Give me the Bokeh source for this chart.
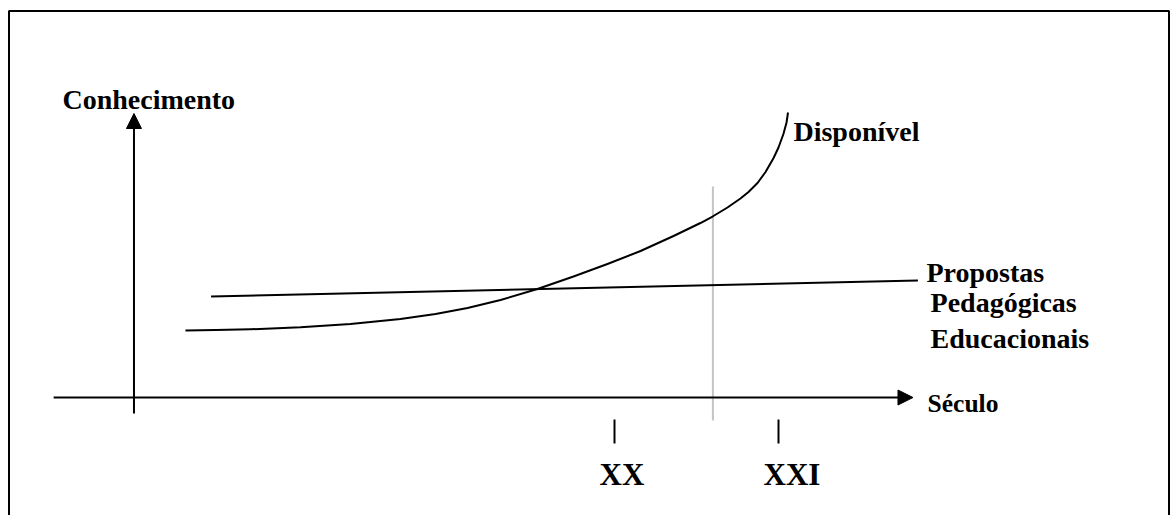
from bokeh.plotting import figure
from bokeh.models import Range1d, Arrow, NormalHead, ColumnDataSource, BoxAnnotation
from bokeh.core.properties import value
from bokeh.embed import file_html
from bokeh.resources import INLINE

# ---- data (x in centuries, y in arbitrary "knowledge" units) ----
disponivel_x = [17.384, 17.567, 17.780, 18.085, 18.390, 18.695, 18.909, 19.104,
                19.305, 19.530, 19.750, 19.957, 20.159, 20.360, 20.524, 20.598,
                20.689, 20.768, 20.817, 20.872, 20.921, 20.970, 21.000, 21.030,
                21.049, 21.058]
disponivel_y = [23.56, 23.73, 24.01, 24.72, 25.88, 27.64, 29.40, 31.51,
                34.33, 38.20, 42.61, 47.01, 51.58, 56.87, 61.44, 63.73,
                66.90, 70.07, 72.36, 75.53, 79.40, 84.33, 88.03, 92.78,
                96.83, 100.35]

propostas_x = [17.54, 21.85]
propostas_y = [35.6, 41.2]

century_ticks = [20, 21]
century_labels = ["XX", "XXI"]

y_axis_label = "Conhecimento"
x_axis_label = "Século"
curve_label = "Disponível"
line_labels = ["Propostas", "Pedagógicas", "Educacionais"]

present_x = 20.6          # grey "today" marker
y_axis_at = 17.07         # where the vertical axis stands
x_axis_from, x_axis_to = 16.58, 21.82
y_axis_from, y_axis_to = -5.6, 100.0

# ---- layout ----
W, H = 1170, 515
PX_PER_C = 164.0
PX_PER_K = 2.84
C20_PX, K0_PX = 614.0, 397.0          # pixel anchors of century 20 / knowledge 0
TEXT_DY = -9                          # baseline correction for text, px

def cx(px):
    return 20 + (px - C20_PX) / PX_PER_C

def ky(py):
    return (K0_PX - py) / PX_PER_K

p = figure(width=W, height=H, output_backend="svg", toolbar_location=None,
           x_range=Range1d(cx(0), cx(W)), y_range=Range1d(ky(H), ky(0)),
           min_border_left=0, min_border_right=0, min_border_top=0, min_border_bottom=0)
p.axis.visible = False
p.grid.visible = False
p.outline_line_color = None
p.background_fill_color = "white"
p.border_fill_color = "white"

# page frame (bottom edge falls outside the picture)
p.add_layout(BoxAnnotation(left=cx(8.5), right=cx(1168.5), top=ky(10.5), bottom=ky(540),
                           fill_alpha=0, fill_color=None, line_color="black",
                           line_width=2, line_alpha=1))

FONT = value("Liberation Serif")

# axes as arrows
p.add_layout(Arrow(end=NormalHead(size=15, fill_color="black", line_color="black"),
                   x_start=x_axis_from, y_start=0, x_end=x_axis_to, y_end=0,
                   line_width=2, line_color="black"))
p.add_layout(Arrow(end=NormalHead(size=15, fill_color="black", line_color="black"),
                   x_start=y_axis_at, y_start=y_axis_from, x_end=y_axis_at, y_end=y_axis_to,
                   line_width=2, line_color="black"))

# present-day grey line
p.segment(x0=[present_x], y0=[-8.1], x1=[present_x], y1=[74.3],
          line_color="#c4c4c4", line_width=2)

# century ticks
p.segment(x0=century_ticks, y0=[-7.75] * 2, x1=century_ticks, y1=[-16.2] * 2,
          line_color="black", line_width=2)

# curves
p.line(disponivel_x, disponivel_y, line_color="black", line_width=2, line_join="round")
p.line(propostas_x, propostas_y, line_color="black", line_width=2)

def label(x, y, t, size):
    p.text(x=[x], y=[y], text=[t], text_font=FONT, text_font_style="bold",
           text_font_size=size, text_color="black", text_align="left",
           text_baseline="alphabetic", y_offset=TEXT_DY)

label(16.634, 101.8, y_axis_label, "28px")
label(21.091, 90.5, curve_label, "28px")
label(21.902, 40.8, line_labels[0], "28px")
label(21.927, 30.3, line_labels[1], "28px")
label(21.927, 17.6, line_labels[2], "28px")
label(21.909, -5.3, x_axis_label, "25.5px")

# century labels, slightly left of each tick
src = ColumnDataSource(dict(x=century_ticks, y=[-30.3] * 2, t=century_labels))
p.text(x="x", y="y", text="t", source=src, x_offset=-15, y_offset=TEXT_DY,
       text_font=FONT, text_font_style="bold", text_font_size="31px",
       text_color="black", text_align="left", text_baseline="alphabetic")

open("out.html", "w").write(file_html(p, INLINE))
